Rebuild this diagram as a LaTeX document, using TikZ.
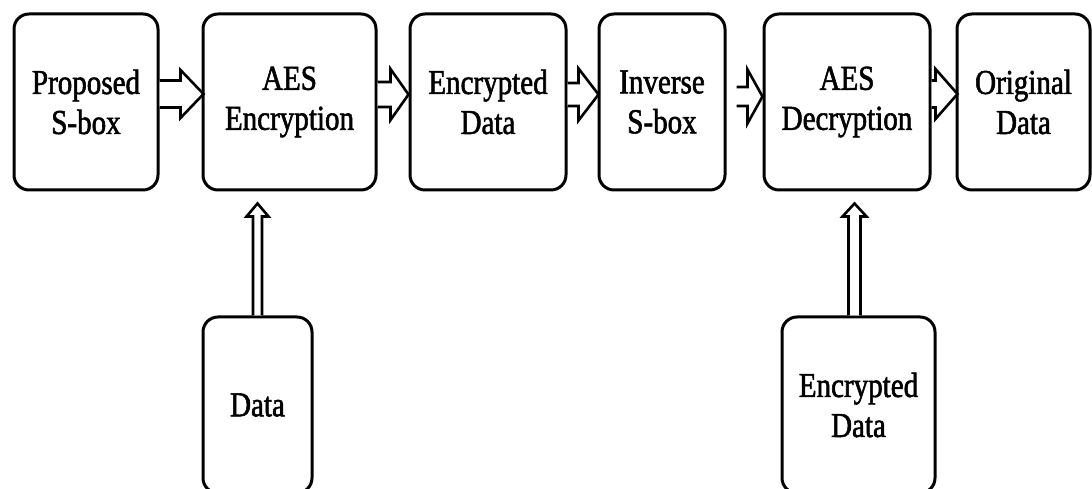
\documentclass[tikz,border=0pt]{standalone}
\usepackage{fontspec}
\setmainfont[FakeStretch=0.83,FakeBold=1.6]{Liberation Serif}
\usetikzlibrary{calc}

% #1 start, #2 tip, #3 half shaft, #4 half head, #5 head length
\newcommand{\hblock}[5]{%
	\draw[arrowline] let \p1=(#1), \p2=(#2) in
		(\x1,\y2+#3) -- (\x2-#5,\y2+#3) -- (\x2-#5,\y2+#4) -- (\x2,\y2)
		-- (\x2-#5,\y2-#4) -- (\x2-#5,\y2-#3) -- (\x1,\y2-#3);}
\newcommand{\vblock}[5]{%
	\draw[arrowline] let \p1=(#1), \p2=(#2) in
		(\x2+#3,\y1) -- (\x2+#3,\y2-#5) -- (\x2+#4,\y2-#5) -- (\x2,\y2)
		-- (\x2-#4,\y2-#5) -- (\x2-#3,\y2-#5) -- (\x2-#3,\y1);}

\begin{document}
\begin{tikzpicture}[x=1pt,y=1pt,
	box/.style={draw, line width=3pt, rounded corners=15pt, align=center,
		inner sep=0pt, font=\fontsize{35}{40}\selectfont},
	arrowline/.style={draw, line width=2.6pt, fill=white, line join=miter}]
		\useasboundingbox (0,0) rectangle (1092,489);

		% upper row
		\node[box, minimum width=144, minimum height=176] (sbox) at (86,387) {Proposed\\S-box};
		\node[box, minimum width=173, minimum height=176] (aesenc) at (289.5,387) {AES\\Encryption};
		\node[box, minimum width=156, minimum height=176] (encdata) at (488,387) {Encrypted\\Data};
		\node[box, minimum width=126, minimum height=176] (invsbox) at (662,387) {Inverse\\S-box};
		\node[box, minimum width=166, minimum height=176] (aesdec) at (847,387) {AES\\Decryption};
		\node[box, minimum width=133, minimum height=176] (orig) at (1023.5,387) {Original\\Data};

		% inputs
		\node[box, minimum width=109, minimum height=176] (data) at (257.5,84) {Data};
		\node[box, minimum width=153, minimum height=176] (encin) at (858.5,84) {Encrypted\\Data};

		\hblock{$(sbox.east)+(0,8)$}{$(aesenc.west)+(2,8)$}{13.5pt}{24pt}{23pt}
		\hblock{$(aesenc.east)+(0,7.5)$}{$(encdata.west)+(0,7.5)$}{12.5pt}{25.5pt}{18pt}
		\hblock{$(encdata.east)+(0,7.5)$}{$(invsbox.west)+(1,7.5)$}{11.5pt}{26pt}{20pt}
		\hblock{$(invsbox.east)+(10,5.5)$}{$(aesdec.west)+(0,5.5)$}{9.5pt}{27pt}{15pt}
		\hblock{$(aesdec.east)+(0,8)$}{$(orig.west)+(2,8)$}{13.5pt}{25pt}{22pt}

		\vblock{data.north}{$(aesenc.south -| data.north)+(0,-12)$}{4.5pt}{11pt}{13pt}
		\vblock{$(encin.north)+(-4,0)$}{$(aesdec.south -| encin.north)+(-4,-12)$}{6pt}{12pt}{13pt}
	\end{tikzpicture}
\end{document}
